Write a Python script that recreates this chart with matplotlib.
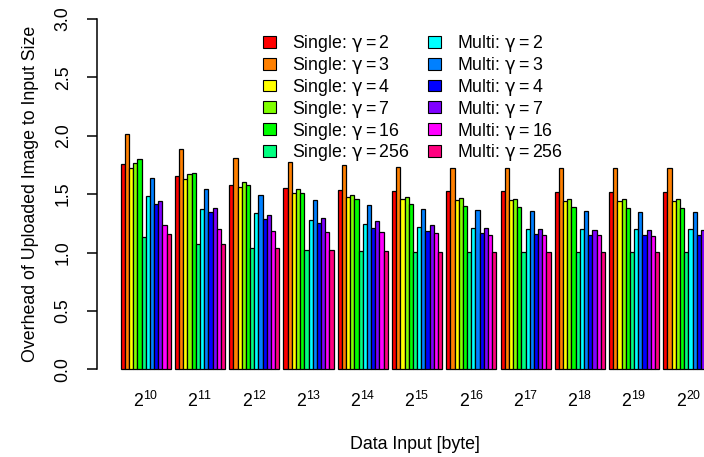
import matplotlib
matplotlib.use("Agg")
import matplotlib.pyplot as plt
import numpy as np
from matplotlib.patches import Patch

plt.rcParams['font.family'] = ['Liberation Sans', 'DejaVu Sans']
plt.rcParams['mathtext.fontset'] = 'custom'
plt.rcParams['mathtext.rm'] = 'Liberation Sans'
plt.rcParams['mathtext.it'] = 'DejaVu Sans'
plt.rcParams['mathtext.bf'] = 'Liberation Sans:bold'

# input sizes 2^10 .. 2^20
exponents = [10, 11, 12, 13, 14, 15, 16, 17, 18, 19, 20]

single_2 = [1.755, 1.658, 1.575, 1.550, 1.538, 1.527, 1.524, 1.524, 1.518, 1.518, 1.518]
single_3 = [2.012, 1.883, 1.812, 1.772, 1.747, 1.735, 1.726, 1.721, 1.721, 1.721, 1.721]
single_4 = [1.721, 1.629, 1.561, 1.507, 1.473, 1.458, 1.450, 1.447, 1.444, 1.441, 1.441]
single_7 = [1.766, 1.669, 1.601, 1.541, 1.495, 1.478, 1.464, 1.461, 1.458, 1.455, 1.455]
single_16 = [1.800, 1.678, 1.575, 1.512, 1.455, 1.418, 1.401, 1.392, 1.387, 1.384, 1.384]
single_256 = [1.135, 1.070, 1.039, 1.019, 1.010, 1.007, 1.007, 1.004, 1.004, 1.004, 1.004]
multi_2 = [1.484, 1.375, 1.336, 1.278, 1.241, 1.221, 1.210, 1.204, 1.204, 1.201, 1.201]
multi_3 = [1.635, 1.541, 1.490, 1.447, 1.407, 1.372, 1.361, 1.355, 1.353, 1.350, 1.350]
multi_4 = [1.415, 1.347, 1.287, 1.255, 1.212, 1.184, 1.164, 1.156, 1.150, 1.147, 1.147]
multi_7 = [1.444, 1.378, 1.324, 1.293, 1.267, 1.233, 1.210, 1.201, 1.195, 1.193, 1.190]
multi_16 = [1.235, 1.201, 1.187, 1.176, 1.173, 1.164, 1.153, 1.147, 1.147, 1.144, 1.143]
multi_256 = [1.158, 1.075, 1.039, 1.019, 1.010, 1.007, 1.007, 1.004, 1.004, 1.004, 1.004]

series = [single_2, single_3, single_4, single_7, single_16, single_256,
          multi_2, multi_3, multi_4, multi_7, multi_16, multi_256]
gammas = [2, 3, 4, 7, 16, 256]
labels = ['Single: $\\gamma = %d$' % g for g in gammas] + \
         ['Multi: $\\gamma = %d$' % g for g in gammas]
# R's rainbow(12)
colors = ['#FF0000', '#FF8000', '#FFFF00', '#80FF00', '#00FF00', '#00FF80',
          '#00FFFF', '#0080FF', '#0000FF', '#8000FF', '#FF00FF', '#FF0080']

fs = 12.8
fig = plt.figure(figsize=(7.04, 4.57), dpi=100)
ax = fig.add_axes([96.7 / 704, 73.7 / 457, 636.5 / 704, 378.3 / 457])

n_groups = len(exponents)
n_series = len(series)
group_start = np.arange(n_groups) * (n_series + 1) + 1
for j, vals in enumerate(series):
    ax.bar(group_start + j, vals, width=1, align='edge', color=colors[j],
           edgecolor='black', linewidth=0.9)

ax.set_xlim(-4.75, 147.75)
ax.set_ylim(-0.12, 3.12)

for side in ['top', 'right', 'bottom']:
    ax.spines[side].set_visible(False)
ax.spines['left'].set_bounds(0, 3)
ax.spines['left'].set_linewidth(1.1)

ax.set_yticks(np.arange(0, 3.01, 0.5))
ax.set_yticklabels(['%.1f' % v for v in np.arange(0, 3.01, 0.5)],
                   rotation=90, va='center', fontsize=fs)
ax.tick_params(axis='y', length=7.5, width=1.1, pad=10.5)

ax.set_xticks(group_start + n_series / 2)
ax.set_xticklabels(['$2^{%d}$' % e for e in exponents], fontsize=fs)
ax.tick_params(axis='x', length=0, pad=5.5)

ax.set_xlabel('Data Input [byte]', fontsize=fs)
ax.xaxis.set_label_coords(0.5, -0.139)
ax.set_ylabel('Overhead of Uploaded Image to Input Size', fontsize=fs, va='center')
ax.yaxis.set_label_coords(-0.104, 0.5)

handles = [Patch(facecolor=c, edgecolor='black', linewidth=0.8) for c in colors]
fig.legend(handles, labels, loc='upper left', bbox_to_anchor=(263 / 704, 1 - 33 / 457),
           ncol=2, frameon=False, fontsize=fs, borderpad=0, borderaxespad=0,
           handlelength=0.75, handleheight=0.65, handletextpad=0.9,
           columnspacing=1.0, labelspacing=0.05)

fig.savefig('out.png', dpi=100)
